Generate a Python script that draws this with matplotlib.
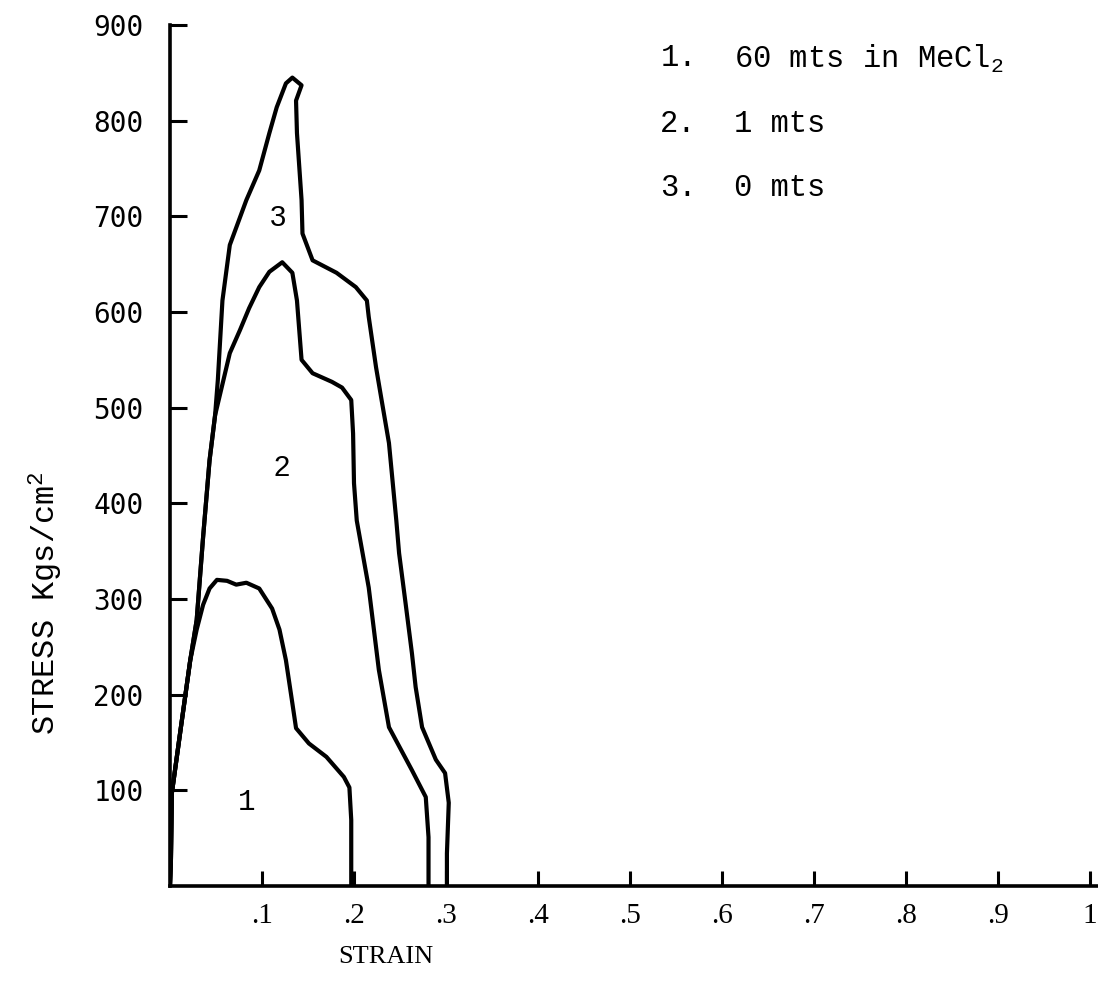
import matplotlib
matplotlib.use("Agg")
import matplotlib.pyplot as plt

# ---- data ----
strain_3 = [0.000, 0.001, 0.002, 0.011, 0.022, 0.029, 0.036, 0.043, 0.049, 0.052, 0.057,
            0.065, 0.083, 0.097, 0.108, 0.116, 0.126, 0.133, 0.143, 0.137, 0.138, 0.143,
            0.144, 0.155, 0.181, 0.202, 0.214, 0.216, 0.224, 0.230, 0.238, 0.246, 0.249,
            0.256, 0.263, 0.267, 0.274, 0.289, 0.299, 0.303, 0.301, 0.301]
stress_3 = [0, 27, 97, 160, 236, 278, 365, 445, 492, 529, 612,
            670, 717, 748, 787, 814, 839, 845, 837, 821, 787, 717,
            682, 654, 641, 626, 612, 595, 542, 508, 463, 382, 348,
            296, 243, 208, 166, 132, 118, 87, 34, 0]

strain_2 = [0.000, 0.001, 0.002, 0.011, 0.022, 0.029, 0.036, 0.043, 0.049, 0.065, 0.076,
            0.086, 0.097, 0.108, 0.122, 0.133, 0.138, 0.143, 0.155, 0.176, 0.187, 0.197,
            0.199, 0.200, 0.203, 0.216, 0.227, 0.238, 0.263, 0.278, 0.281, 0.281]
stress_2 = [0, 27, 97, 160, 236, 278, 365, 445, 492, 557, 581,
            604, 626, 642, 652, 641, 612, 550, 536, 527, 521, 508,
            473, 421, 382, 312, 226, 166, 121, 93, 51, 0]

strain_1 = [0.000, 0.001, 0.002, 0.011, 0.022, 0.029, 0.036, 0.043, 0.051, 0.062, 0.072,
            0.083, 0.097, 0.111, 0.119, 0.126, 0.133, 0.137, 0.151, 0.170, 0.189, 0.195,
            0.197, 0.197]
stress_1 = [0, 27, 97, 160, 236, 268, 294, 311, 320, 319, 315,
            317, 311, 290, 268, 236, 191, 165, 149, 135, 114, 103,
            69, 0]

x_ticks = [0.1, 0.2, 0.3, 0.4, 0.5, 0.6, 0.7, 0.8, 0.9, 1.0]
x_tick_labels = [".1", ".2", ".3", ".4", ".5", ".6", ".7", ".8", ".9", "1"]
y_ticks = [100, 200, 300, 400, 500, 600, 700, 800, 900]
y_tick_labels = ["100", "200", "300", "400", "500", "600", "700", "800", "900"]

legend_nums = ["1.", "2.", "3."]
legend_texts = ["60 mts in MeCl$_2$", "1 mts", "0 mts"]
legend_y = [865, 797, 730]

curve_labels = ["1", "2", "3"]
curve_label_pos = [(0.083, 88), (0.121, 437), (0.117, 698)]

# ---- figure ----
plt.rcParams['mathtext.fontset'] = 'custom'
plt.rcParams['mathtext.rm'] = 'Liberation Mono'
plt.rcParams['mathtext.it'] = 'Liberation Mono'

W, H = 1098, 992
fig = plt.figure(figsize=(W / 100, H / 100), dpi=100)
ax = fig.add_axes([170 / W, 1 - 886 / H, (1098 - 170) / W, (886 - 25) / H])

lw = 3.0
for xs, ys in [(strain_1, stress_1), (strain_2, stress_2), (strain_3, stress_3)]:
    ax.plot(xs, ys, color="black", lw=lw, solid_joinstyle="round", solid_capstyle="round")

ax.set_xlim(0, (1098 - 170) / 920)
ax.set_ylim(0, 900)

for s in ["top", "right"]:
    ax.spines[s].set_visible(False)
for s in ["left", "bottom"]:
    ax.spines[s].set_linewidth(2.6)

ax.set_xticks(x_ticks)
ax.set_xticklabels(x_tick_labels, fontfamily="Liberation Serif", fontsize=21)
ax.set_yticks(y_ticks)
ax.set_yticklabels(y_tick_labels, fontfamily="DejaVu Sans Mono", fontsize=20)
ax.tick_params(axis="x", direction="in", length=11, width=2.2, pad=12)
ax.tick_params(axis="y", direction="in", length=12, width=2.2, pad=19)

for num, txt, yy in zip(legend_nums, legend_texts, legend_y):
    ax.text(0.533, yy, num, fontfamily="Liberation Mono", fontsize=22, va="center", ha="left")
    ax.text(0.613, yy, txt, fontfamily="Liberation Mono", fontsize=22, va="center", ha="left")

for lab, (lx, ly) in zip(curve_labels, curve_label_pos):
    fam = "Liberation Mono" if lab == "1" else "Liberation Sans"
    ax.text(lx, ly, lab, fontfamily=fam, fontsize=21, ha="center", va="center")

fig.text(386 / W, 1 - 957 / H, "STRAIN", fontfamily="Liberation Serif", fontsize=19,
         ha="center", va="center")
fig.text(46 / W, 1 - 603 / H, "STRESS Kgs/cm$^2$", fontfamily="Liberation Mono", fontsize=23,
         rotation=90, ha="center", va="center")

fig.savefig("out.png", dpi=100)
